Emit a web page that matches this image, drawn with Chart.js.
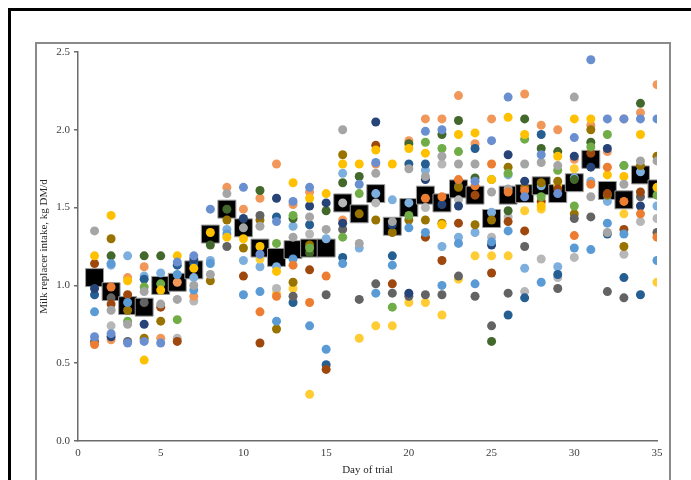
<!DOCTYPE html>
<html lang="en">
<head>
    <meta charset="UTF-8">
    <title>Milk replacer intake by day of trial</title>
    <script src="https://cdn.jsdelivr.net/npm/chart.js"></script>
    <style>
        body { margin: 0; background: #fff; }
        .outer { position: absolute; left: 8px; top: 8px; width: 800px; height: 600px; border: 3px solid #000; }
        .inner { position: absolute; left: 35px; top: 42px; width: 636px; height: 600px; border: 2px solid #8a8a8a; box-sizing: border-box; }
        #intakeChart { position: absolute; left: 0; top: 0; }
    </style>
</head>
<body>
    <div class="outer"></div>
    <div class="inner"></div>
    <canvas id="intakeChart" width="691" height="480"></canvas>

    <script>
        // days 1..35
        const days = Array.from({ length: 35 }, (_, i) => i + 1);

        // individual calves, kg DM/d (null = not visible)
        const calf1 = [0.67,0.69,0.63,0.64,0.63,1.15,1.19,1.49,null,1.63,1.20,1.41,1.54,1.63,null,null,1.65,1.79,null,null,1.99,2.00,null,1.67,1.93,2.21,1.57,1.84,1.59,1.95,2.45,2.07,2.07,2.07,2.07];
        const calf2 = [0.62,0.99,null,null,null,null,null,null,null,null,0.83,0.93,1.13,0.89,1.06,null,null,null,null,null,1.56,1.57,1.68,1.64,1.78,1.60,1.61,null,null,1.32,1.65,1.76,1.54,1.46,1.31];
        const calf3 = [1.35,0.84,0.75,0.96,0.88,0.91,1.00,1.07,1.59,1.37,1.38,null,1.31,1.44,1.36,2.00,1.27,1.72,1.41,1.75,1.70,1.83,1.78,1.78,1.60,1.62,1.78,1.79,1.77,2.21,1.57,1.34,1.65,1.80,1.80];
        const calf4 = [1.19,1.45,1.03,0.52,0.97,1.19,1.11,1.34,1.31,1.30,1.25,1.09,1.66,1.56,1.59,1.78,1.78,1.87,1.78,1.88,1.85,1.39,1.97,1.98,1.68,2.08,1.97,1.51,1.83,2.07,2.07,1.71,1.70,1.97,1.63];
        const calf5 = [0.83,1.14,0.89,null,null,1.07,0.97,1.14,1.33,0.94,0.96,0.77,1.17,0.74,0.59,1.14,null,0.95,1.13,1.37,1.34,1.00,1.27,1.01,1.28,1.35,null,1.02,null,1.24,1.23,1.40,1.33,null,1.16];
        const calf6 = [null,null,0.77,0.99,1.01,0.78,null,null,null,null,null,1.27,1.45,1.24,null,1.31,1.59,null,0.86,1.45,1.92,1.88,1.86,null,1.68,1.72,1.94,1.57,1.74,1.51,1.89,1.97,1.77,null,1.58];
        const calf7 = [0.98,0.67,null,0.75,null,null,1.17,null,null,1.43,null,1.56,null,1.51,1.53,1.40,null,2.05,1.39,0.95,1.68,1.52,1.51,null,1.26,1.84,1.67,null,null,1.83,1.76,1.88,null,1.51,1.62];
        const calf8 = [1.14,0.88,0.94,null,0.86,0.64,null,null,null,1.06,0.63,null,null,1.10,0.46,null,null,1.90,1.01,null,1.31,1.16,1.40,1.58,1.08,1.41,1.35,1.54,1.62,null,1.85,1.59,1.36,1.60,null];
        const calf9 = [0.64,0.92,0.64,0.89,null,null,null,null,1.25,null,1.45,null,0.93,null,0.94,1.36,0.91,1.01,0.95,0.93,0.94,0.94,1.06,0.93,0.74,0.95,1.25,null,0.98,1.43,1.44,0.96,0.92,1.57,1.34];
        const calf10 = [null,1.30,0.84,0.66,0.77,null,null,1.03,1.42,1.24,1.42,0.72,1.02,1.26,null,1.84,1.46,1.42,1.34,1.42,1.42,1.40,1.63,1.39,1.42,1.76,1.63,1.66,1.67,1.46,2.00,1.58,1.25,1.77,1.83];
        const calf11 = [0.94,null,null,1.04,null,1.13,1.14,null,null,null,null,1.44,0.89,1.39,0.49,1.18,null,null,1.19,1.78,1.78,null,1.64,1.88,null,0.81,0.92,1.97,1.07,null,null,1.33,1.05,0.94,null];
        const calf12 = [null,1.19,null,1.19,1.19,null,null,1.26,1.49,null,1.61,null,1.43,1.21,1.48,1.66,1.70,null,null,1.91,null,1.97,2.06,1.69,0.64,1.48,2.07,1.88,1.86,1.68,1.92,null,null,2.17,null];
        const calf13 = [null,0.65,1.05,1.12,0.66,1.02,0.93,null,1.63,1.49,1.56,1.78,1.52,1.60,null,1.42,null,1.78,null,1.93,2.07,2.07,2.22,1.91,2.07,null,2.23,2.03,2.00,1.81,2.03,1.86,2.07,2.11,2.29];
        const calf14 = [null,0.74,null,null,null,0.66,0.90,null,null,null,null,0.98,null,1.33,null,1.53,null,1.53,null,null,1.50,1.78,1.55,null,1.31,1.44,0.96,1.17,1.05,1.18,null,null,1.20,1.41,1.43];
        const calf15 = [null,null,null,0.65,null,null,null,null,null,null,1.17,0.95,0.98,0.30,null,null,0.66,0.74,0.74,0.89,0.89,0.81,1.04,1.19,1.19,1.19,1.48,1.49,1.64,1.75,null,null,1.46,null,1.02];
        const calf16 = [null,1.13,1.19,1.06,1.08,null,1.05,1.16,1.36,1.16,1.12,1.12,1.38,null,1.30,1.72,1.24,1.59,1.55,1.53,1.74,1.25,1.31,1.34,1.47,1.71,1.11,1.64,1.12,1.69,1.67,1.54,1.77,1.73,1.51];

        // daily mean (black squares)
        const meanIntake = [1.05,0.96,0.87,0.86,1.00,1.02,1.10,1.33,1.49,1.37,1.24,1.18,1.23,1.24,1.24,1.53,1.46,1.59,1.38,1.50,1.58,1.53,1.62,1.58,1.43,1.58,1.59,1.64,1.59,1.66,1.81,1.61,1.55,1.71,1.62];

        const calves = [calf1, calf2, calf3, calf4, calf5, calf6, calf7, calf8, calf9, calf10, calf11, calf12, calf13, calf14, calf15, calf16];
        const colors = ['#6a8fd0', '#ed7d31', '#a5a5a5', '#ffc000', '#5b9bd5', '#70ad47', '#264478', '#9e480e',
                        '#636363', '#997300', '#255e91', '#43682b', '#f1975a', '#b7b7b7', '#ffcd33', '#7cafdd'];

        function toPoints(vals) {
            return days.map((d, i) => ({ x: d, y: vals[i] })).filter(p => p.y !== null);
        }

        const datasets = calves.map((vals, i) => ({
            label: 'Calf ' + (i + 1),
            data: toPoints(vals),
            backgroundColor: colors[i],
            borderWidth: 0,
            pointRadius: 4.5,
            order: 0
        }));

        datasets.push({
            label: 'Mean',
            data: toPoints(meanIntake),
            pointStyle: 'rect',
            pointRadius: 12.7,
            backgroundColor: '#000',
            borderColor: '#9a9a9a',
            borderWidth: 1,
            order: 1
        });

        const font = { family: 'Liberation Serif', size: 11 };

        new Chart(document.getElementById('intakeChart').getContext('2d'), {
            type: 'scatter',
            data: { datasets },
            options: {
                responsive: false,
                animation: false,
                layout: { padding: { top: 52, right: 34, left: 0, bottom: 0 } },
                plugins: { legend: { display: false }, tooltip: { enabled: false } },
                scales: {
                    x: {
                        type: 'linear',
                        min: 0,
                        max: 35,
                        afterFit: s => { s.height = 39; },
                        ticks: { stepSize: 5, color: '#404040', font, padding: 6, maxRotation: 0 },
                        grid: { display: false, drawTicks: false },
                        border: { color: '#6b6b6b', width: 1.5 },
                        title: { display: true, text: 'Day of trial', color: '#262626', font, padding: { top: 0, bottom: 3 } }
                    },
                    y: {
                        min: 0,
                        max: 2.5,
                        afterFit: s => { s.width = 78; },
                        ticks: { stepSize: 0.5, color: '#404040', font, padding: 4, callback: v => v.toFixed(1) },
                        grid: { drawOnChartArea: false, tickLength: 4, color: '#6b6b6b', lineWidth: 1.5 },
                        border: { color: '#6b6b6b', width: 1.5 },
                        title: { display: true, text: 'Milk replacer intake, kg DM/d', color: '#262626', font, padding: { top: 38, bottom: 0 } }
                    }
                }
            }
        });
    </script>
</body>
</html>
